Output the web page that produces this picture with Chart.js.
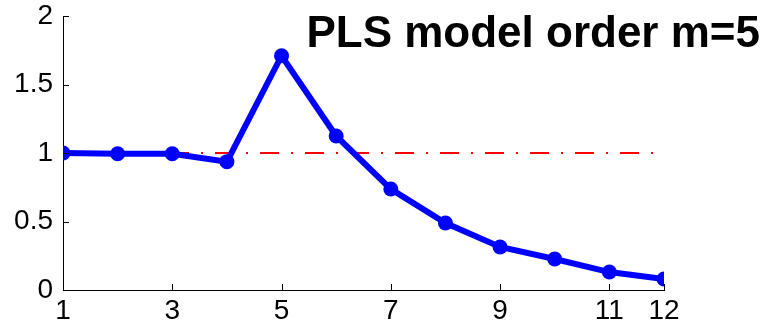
<!DOCTYPE html>
<html>
<head>
<meta charset="utf-8">
<script src="https://cdn.jsdelivr.net/npm/chart.js@4/dist/chart.umd.min.js"></script>
<style>
html,body{margin:0;padding:0;background:#fff;}
#wrap{width:767px;height:333px;position:relative;}
</style>
</head>
<body>
<div id="wrap"><canvas id="c" width="767" height="333"></canvas></div>
<script>
const modelOrders = [1,2,3,4,5,6,7,8,9,10,11,12];
const pressRatio = [1.0,0.995,0.995,0.937,1.71,1.124,0.737,0.489,0.314,0.226,0.131,0.08];
const referenceLevel = [1,1];
const referenceX = [1,12];
const xTickValues = [1,3,5,7,9,11,12];
const yTickValues = [0,0.5,1,1.5,2];
const titleText = 'PLS model order m=5';

const FONT = '"Liberation Sans", Arial, Helvetica, sans-serif';

const inwardTicks = {
  id:'inwardTicks',
  afterDraw(chart){
    const ctx = chart.ctx, a = chart.chartArea;
    const xs = chart.scales.x, ys = chart.scales.y;
    ctx.save();
    ctx.strokeStyle = '#000';
    ctx.lineWidth = 1;
    ctx.beginPath();
    xTickValues.forEach(v=>{
      const px = Math.round(xs.getPixelForValue(v))+0.5;
      ctx.moveTo(px, a.bottom);
      ctx.lineTo(px, a.bottom-6);
    });
    yTickValues.forEach(v=>{
      const py = Math.round(ys.getPixelForValue(v))+0.5;
      ctx.moveTo(a.left, py);
      ctx.lineTo(a.left+6, py);
    });
    ctx.stroke();
    // title
    ctx.fillStyle = '#000';
    ctx.font = 'bold 44px ' + FONT;
    ctx.textAlign = 'right';
    ctx.textBaseline = 'alphabetic';
    ctx.fillText(titleText, 760, 47);
    ctx.restore();
  }
};

new Chart(document.getElementById('c'), {
  type:'scatter',
  data:{
    datasets:[
      {
        data: modelOrders.map((x,i)=>({x:x, y:pressRatio[i]})),
        showLine:true,
        borderColor:'#0000ff',
        backgroundColor:'#0000ff',
        borderWidth:6,
        pointRadius:7.5,
        pointHoverRadius:7.5,
        pointBorderWidth:0,
        order:1
      },
      {
        data: referenceX.map((x,i)=>({x:x, y:referenceLevel[i]})),
        showLine:true,
        borderColor:'#ff0000',
        borderWidth:2,
        borderDash:[19,12,2,12],
        borderDashOffset:28,
        pointRadius:0,
        order:2
      }
    ]
  },
  options:{
    responsive:false,
    animation:false,
    events:[],
    layout:{padding:{top:16,right:103,left:0,bottom:0}},
    plugins:{legend:{display:false},tooltip:{enabled:false},title:{display:false}},
    scales:{
      x:{
        type:'linear', min:1, max:12,
        afterBuildTicks(s){ s.ticks = xTickValues.map(v=>({value:v})); },
        afterFit(s){ s.height = 43; s.paddingLeft = 0; s.paddingRight = 0; },
        grid:{display:true, drawOnChartArea:false, drawTicks:false},
        border:{display:true, color:'#000', width:1},
        ticks:{color:'#000', font:{family:FONT, size:28}, padding:4, maxRotation:0, autoSkip:false,
          callback:(v)=>String(v)}
      },
      y:{
        type:'linear', min:0, max:2,
        afterBuildTicks(s){ s.ticks = yTickValues.map(v=>({value:v})); },
        afterFit(s){ s.width = 63; s.paddingTop = 0; s.paddingBottom = 0; },
        grid:{display:true, drawOnChartArea:false, drawTicks:false},
        border:{display:true, color:'#000', width:1},
        ticks:{color:'#000', font:{family:FONT, size:28}, padding:10,
          callback:(v)=>String(v)}
      }
    }
  },
  plugins:[inwardTicks]
});
</script>
</body>
</html>
